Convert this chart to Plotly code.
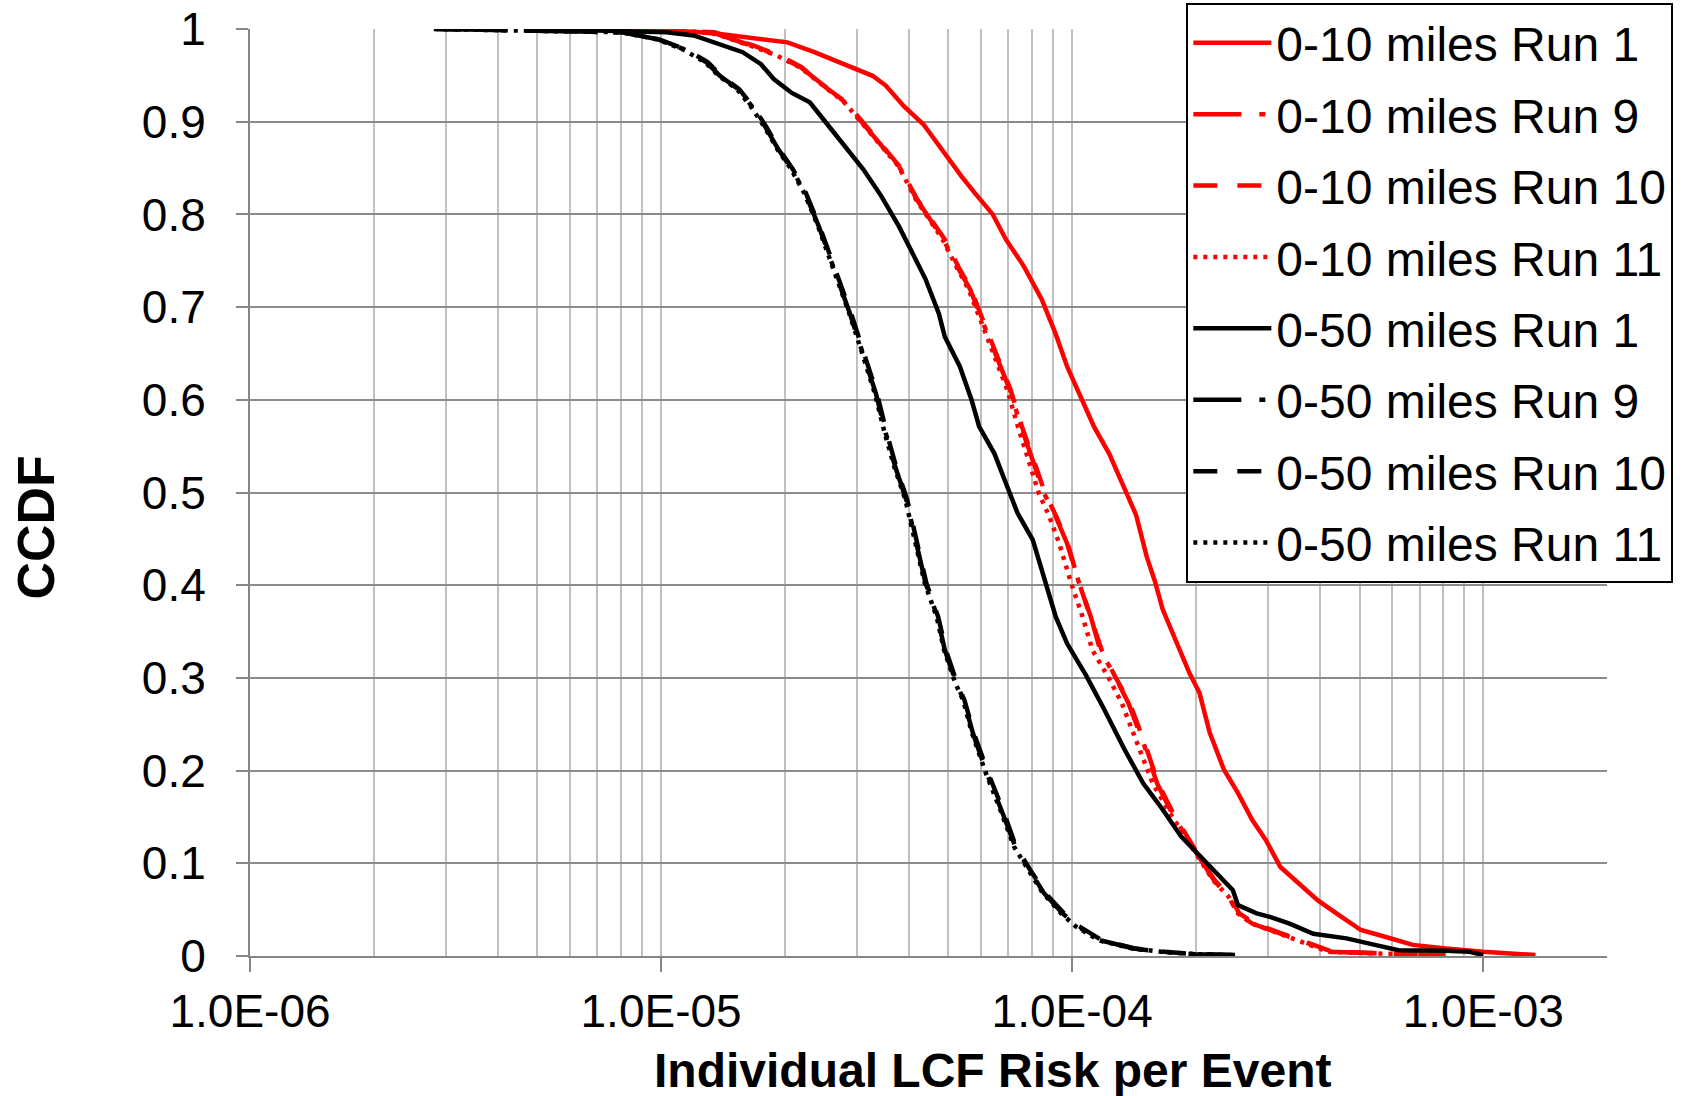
import plotly.graph_objects as go

# ---------------- data ----------------
series_names = [
    "0-10 miles Run 1", "0-10 miles Run 9", "0-10 miles Run 10", "0-10 miles Run 11",
    "0-50 miles Run 1", "0-50 miles Run 9", "0-50 miles Run 10", "0-50 miles Run 11",
]

r10_run1_x = [7.6e-6, 1.0e-5, 1.2e-5, 1.39e-5, 2.03e-5, 2.36e-5, 2.8e-5, 3.27e-5, 3.52e-5, 3.89e-5,
              4.35e-5, 4.86e-5, 5.38e-5, 5.8e-5, 6.41e-5, 6.9e-5, 7.63e-5, 8.44e-5, 9.1e-5, 9.72e-5,
              1.06e-4, 1.13e-4, 1.23e-4, 1.34e-4, 1.43e-4, 1.52e-4, 1.59e-4, 1.66e-4, 1.81e-4, 1.93e-4,
              2.04e-4, 2.16e-4, 2.34e-4, 2.53e-4, 2.74e-4, 2.96e-4, 3.21e-4, 3.56e-4, 3.96e-4, 4.53e-4,
              5.04e-4, 5.74e-4, 6.74e-4, 8.11e-4, 1.0e-3, 1.34e-3]
r10_run1_y = [1.0, 0.998, 0.997, 0.9946, 0.9856, 0.975, 0.962, 0.9495, 0.939, 0.917,
              0.897, 0.867, 0.841, 0.823, 0.800, 0.773, 0.744, 0.708, 0.672, 0.636,
              0.600, 0.571, 0.542, 0.505, 0.476, 0.430, 0.404, 0.374, 0.333, 0.305,
              0.284, 0.241, 0.201, 0.176, 0.147, 0.125, 0.096, 0.078, 0.060, 0.042,
              0.028, 0.021, 0.012, 0.008, 0.0045, 0.001]

r10_run9_x = [7.6e-6, 1.0e-5, 1.33e-5, 1.66e-5, 1.93e-5, 2.19e-5, 2.54e-5, 2.8e-5, 3.03e-5, 3.43e-5,
              3.79e-5, 4.19e-5, 4.52e-5, 4.86e-5, 5.25e-5, 5.65e-5, 6.07e-5, 6.61e-5, 7.05e-5, 7.51e-5,
              8.02e-5, 8.55e-5, 9.12e-5, 9.72e-5, 1.04e-4, 1.11e-4, 1.17e-4, 1.27e-4, 1.37e-4, 1.49e-4,
              1.61e-4, 1.75e-4, 1.89e-4, 2.05e-4, 2.21e-4, 2.4e-4, 2.53e-4, 2.74e-4, 3.2e-4, 3.76e-4,
              4.18e-4, 5.45e-4, 8.0e-4]
r10_run9_y = [1.0, 0.998, 0.9964, 0.982, 0.971, 0.9585, 0.935, 0.921, 0.903, 0.874,
              0.852, 0.816, 0.794, 0.773, 0.744, 0.719, 0.683, 0.643, 0.611, 0.571,
              0.535, 0.499, 0.474, 0.445, 0.402, 0.366, 0.330, 0.302, 0.273, 0.230,
              0.186, 0.154, 0.129, 0.104, 0.082, 0.064, 0.046, 0.035, 0.024, 0.0135,
              0.0045, 0.0027, 0.001]

r10_run10_x = [7.8e-6, 1.0e-5, 1.35e-5, 1.68e-5, 1.95e-5, 2.2e-5, 2.55e-5, 2.82e-5, 3.05e-5, 3.45e-5,
               3.8e-5, 4.2e-5, 4.55e-5, 4.9e-5, 5.28e-5, 5.68e-5, 6.1e-5, 6.65e-5, 7.08e-5, 7.55e-5,
               8.05e-5, 8.6e-5, 9.15e-5, 9.75e-5, 1.04e-4, 1.11e-4, 1.18e-4, 1.27e-4, 1.38e-4, 1.5e-4,
               1.62e-4, 1.76e-4, 1.9e-4, 2.06e-4, 2.22e-4, 2.42e-4, 2.55e-4, 2.78e-4, 3.25e-4, 3.8e-4,
               4.3e-4, 5.8e-4, 8.1e-4]
r10_run10_y = [1.0, 0.998, 0.9964, 0.982, 0.971, 0.9585, 0.935, 0.921, 0.903, 0.874,
               0.852, 0.816, 0.794, 0.773, 0.744, 0.719, 0.683, 0.643, 0.611, 0.571,
               0.535, 0.499, 0.474, 0.445, 0.402, 0.366, 0.330, 0.302, 0.273, 0.230,
               0.186, 0.154, 0.129, 0.104, 0.082, 0.064, 0.046, 0.035, 0.024, 0.0135,
               0.0045, 0.0027, 0.001]

r10_run11_x = [7.6e-6, 1.0e-5, 1.32e-5, 1.65e-5, 1.92e-5, 2.18e-5, 2.53e-5, 2.79e-5, 3.02e-5, 3.42e-5,
               3.78e-5, 4.17e-5, 4.5e-5, 4.84e-5, 5.22e-5, 5.6e-5, 6.02e-5, 6.52e-5, 6.95e-5, 7.38e-5,
               7.85e-5, 8.3e-5, 8.8e-5, 9.3e-5, 9.95e-5, 1.06e-4, 1.12e-4, 1.22e-4, 1.32e-4, 1.44e-4,
               1.57e-4, 1.73e-4, 1.88e-4, 2.04e-4, 2.2e-4, 2.4e-4, 2.53e-4, 2.74e-4, 3.2e-4, 3.76e-4,
               4.2e-4, 5.5e-4, 7.9e-4]
r10_run11_y = [1.0, 0.998, 0.9964, 0.982, 0.971, 0.9585, 0.935, 0.921, 0.903, 0.874,
               0.852, 0.816, 0.794, 0.773, 0.744, 0.719, 0.683, 0.643, 0.611, 0.571,
               0.535, 0.499, 0.474, 0.445, 0.402, 0.366, 0.330, 0.302, 0.273, 0.230,
               0.186, 0.154, 0.129, 0.104, 0.082, 0.064, 0.046, 0.035, 0.024, 0.0135,
               0.0045, 0.0027, 0.001]

r50_run1_x = [5.0e-6, 8.05e-6, 1.03e-5, 1.2e-5, 1.39e-5, 1.58e-5, 1.75e-5, 1.88e-5, 2.08e-5, 2.3e-5,
              2.54e-5, 2.8e-5, 3.1e-5, 3.43e-5, 3.79e-5, 4.09e-5, 4.4e-5, 4.74e-5, 4.9e-5, 5.33e-5,
              5.69e-5, 5.94e-5, 6.47e-5, 6.9e-5, 7.36e-5, 8.02e-5, 8.55e-5, 9.12e-5, 9.72e-5, 1.08e-4,
              1.19e-4, 1.34e-4, 1.49e-4, 1.66e-4, 1.84e-4, 2.05e-4, 2.28e-4, 2.46e-4, 2.53e-4, 2.81e-4,
              3.04e-4, 3.38e-4, 3.86e-4, 4.65e-4, 5.45e-4, 6.22e-4, 8.11e-4, 9.26e-4, 1.0e-3]
r50_run1_y = [1.0, 0.998, 0.9964, 0.993, 0.984, 0.975, 0.962, 0.946, 0.931, 0.921,
              0.897, 0.874, 0.849, 0.820, 0.787, 0.758, 0.730, 0.693, 0.668, 0.636,
              0.600, 0.571, 0.542, 0.510, 0.478, 0.449, 0.409, 0.366, 0.337, 0.303,
              0.268, 0.223, 0.186, 0.158, 0.129, 0.107, 0.086, 0.071, 0.055, 0.046,
              0.042, 0.035, 0.024, 0.019, 0.012, 0.0063, 0.0056, 0.0045, 0.001]

r50_run9_x = [2.82e-6, 6.26e-6, 8.05e-6, 9.8e-6, 1.14e-5, 1.29e-5, 1.39e-5, 1.54e-5, 1.66e-5, 1.79e-5,
              1.93e-5, 2.08e-5, 2.24e-5, 2.42e-5, 2.57e-5, 2.74e-5, 2.88e-5, 3.06e-5, 3.33e-5, 3.52e-5,
              3.71e-5, 3.95e-5, 4.13e-5, 4.4e-5, 4.7e-5, 4.9e-5, 5.23e-5, 5.45e-5, 5.73e-5, 6.2e-5,
              6.72e-5, 7.27e-5, 7.87e-5, 8.53e-5, 9.48e-5, 1.03e-4, 1.17e-4, 1.41e-4, 1.66e-4, 1.99e-4,
              2.49e-4]
r50_run9_y = [1.0, 0.998, 0.9964, 0.989, 0.978, 0.964, 0.9495, 0.935, 0.917, 0.895,
              0.870, 0.849, 0.823, 0.787, 0.755, 0.722, 0.693, 0.657, 0.607, 0.564,
              0.528, 0.492, 0.456, 0.402, 0.366, 0.330, 0.294, 0.276, 0.241, 0.197,
              0.158, 0.118, 0.093, 0.068, 0.046, 0.032, 0.017, 0.0081, 0.0045, 0.002,
              0.001]

r50_run10_x = [2.85e-6, 6.3e-6, 8.1e-6, 9.85e-6, 1.15e-5, 1.3e-5, 1.4e-5, 1.55e-5, 1.67e-5, 1.8e-5,
               1.94e-5, 2.09e-5, 2.25e-5, 2.43e-5, 2.58e-5, 2.75e-5, 2.9e-5, 3.08e-5, 3.35e-5, 3.54e-5,
               3.73e-5, 3.97e-5, 4.15e-5, 4.42e-5, 4.72e-5, 4.93e-5, 5.25e-5, 5.47e-5, 5.76e-5, 6.25e-5,
               6.78e-5, 7.3e-5, 7.9e-5, 8.6e-5, 9.55e-5, 1.04e-4, 1.18e-4, 1.42e-4, 1.68e-4, 2.0e-4,
               2.5e-4]
r50_run10_y = [1.0, 0.998, 0.9964, 0.989, 0.978, 0.964, 0.9495, 0.935, 0.917, 0.895,
               0.870, 0.849, 0.823, 0.787, 0.755, 0.722, 0.693, 0.657, 0.607, 0.564,
               0.528, 0.492, 0.456, 0.402, 0.366, 0.330, 0.294, 0.276, 0.241, 0.197,
               0.158, 0.118, 0.093, 0.068, 0.046, 0.032, 0.017, 0.0081, 0.0045, 0.002,
               0.001]

r50_run11_x = [2.8e-6, 6.2e-6, 8.0e-6, 9.75e-6, 1.13e-5, 1.28e-5, 1.38e-5, 1.53e-5, 1.65e-5, 1.78e-5,
               1.92e-5, 2.07e-5, 2.23e-5, 2.41e-5, 2.56e-5, 2.73e-5, 2.87e-5, 3.05e-5, 3.31e-5, 3.5e-5,
               3.69e-5, 3.93e-5, 4.11e-5, 4.38e-5, 4.68e-5, 4.88e-5, 5.2e-5, 5.43e-5, 5.7e-5, 6.17e-5,
               6.68e-5, 7.22e-5, 7.82e-5, 8.48e-5, 9.4e-5, 1.02e-4, 1.16e-4, 1.4e-4, 1.65e-4, 1.98e-4,
               2.47e-4]
r50_run11_y = [1.0, 0.998, 0.9964, 0.989, 0.978, 0.964, 0.9495, 0.935, 0.917, 0.895,
               0.870, 0.849, 0.823, 0.787, 0.755, 0.722, 0.693, 0.657, 0.607, 0.564,
               0.528, 0.492, 0.456, 0.402, 0.366, 0.330, 0.294, 0.276, 0.241, 0.197,
               0.158, 0.118, 0.093, 0.068, 0.046, 0.032, 0.017, 0.0081, 0.0045, 0.002,
               0.001]

x_tick_vals = [1e-6, 1e-5, 1e-4, 1e-3]
x_tick_text = ["1.0E-06", "1.0E-05", "1.0E-04", "1.0E-03"]
y_tick_vals = [0, 0.1, 0.2, 0.3, 0.4, 0.5, 0.6, 0.7, 0.8, 0.9, 1]
y_tick_text = ["0", "0.1", "0.2", "0.3", "0.4", "0.5", "0.6", "0.7", "0.8", "0.9", "1"]
x_title = "Individual LCF Risk per Event"
y_title = "CCDF"

# ---------------- styling ----------------
RED = "#ff0000"
BLACK = "#000000"
LW = 4.5
DASH_RUN1 = "solid"
DASH_RUN9 = "48px,18px,6px,18px"
DASH_RUN10 = "24px,20px"
DASH_RUN11 = "4px,6px"

series = [
    (r10_run1_x, r10_run1_y, RED, DASH_RUN1),
    (r10_run9_x, r10_run9_y, RED, DASH_RUN9),
    (r10_run10_x, r10_run10_y, RED, DASH_RUN10),
    (r10_run11_x, r10_run11_y, RED, DASH_RUN11),
    (r50_run1_x, r50_run1_y, BLACK, DASH_RUN1),
    (r50_run9_x, r50_run9_y, BLACK, DASH_RUN9),
    (r50_run10_x, r50_run10_y, BLACK, DASH_RUN10),
    (r50_run11_x, r50_run11_y, BLACK, DASH_RUN11),
]

FONT = "Arial, Liberation Sans, sans-serif"

fig = go.Figure()
for i, (name, (xs, ys, col, dash)) in enumerate(zip(series_names, series)):
    fig.add_trace(go.Scatter(
        x=xs, y=ys, mode="lines", name=name, legendgroup="g%d" % i,
        line=dict(color=col, width=LW, dash=dash),
    ))

minor_vals = [k * 10.0 ** e for e in range(-6, -2) for k in range(2, 10) if k * 10.0 ** e <= 2.0001e-3]

fig.update_layout(
    width=1691, height=1096,
    margin=dict(l=250, r=84, t=29, b=140, autoexpand=False),
    paper_bgcolor="white", plot_bgcolor="white",
    font=dict(family=FONT, size=46, color="black"),
    showlegend=True,
    legend=dict(
        x=0.690, y=1.028, xanchor="left", yanchor="top",
        bgcolor="white", bordercolor="black", borderwidth=2,
        font=dict(family=FONT, size=48, color="black"),
        itemwidth=78, tracegroupgap=6, traceorder="grouped",
        maxheight=900,
    ),
    xaxis=dict(
        type="log", range=[-6, -2.69897],
        tickmode="array", tickvals=x_tick_vals, ticktext=x_tick_text,
        ticks="outside", ticklen=14, tickwidth=2, tickcolor="#868686",
        showline=True, linecolor="#868686", linewidth=2,
        showgrid=True, gridcolor="#c0c0c0", gridwidth=1.5,
        minor=dict(tickmode="array", tickvals=minor_vals, showgrid=True,
                   gridcolor="#c0c0c0", gridwidth=1.5, ticks=""),
        tickfont=dict(family=FONT, size=46, color="black"),
        zeroline=False,
    ),
    yaxis=dict(
        range=[0, 1], tickmode="array", tickvals=y_tick_vals, ticktext=y_tick_text,
        ticks="outside", ticklen=12, tickwidth=2, tickcolor="#868686",
        showline=True, linecolor="#868686", linewidth=2,
        showgrid=True, gridcolor="#8c8c8c", gridwidth=2,
        zeroline=False,
        tickfont=dict(family=FONT, size=46, color="black"),
        ticklabelstandoff=21,
    ),
    annotations=[
        dict(text="<b>%s</b>" % x_title, xref="paper", yref="paper",
             x=0.5468, y=-0.123, xanchor="center", yanchor="middle", showarrow=False,
             font=dict(family=FONT, size=48, color="black")),
        dict(text="<b>%s</b>" % y_title, xref="paper", yref="paper", textangle=-90,
             x=-0.158, y=0.4617, xanchor="center", yanchor="middle", showarrow=False,
             font=dict(family=FONT, size=52, color="black")),
    ],
)

fig.write_html("out.html")
